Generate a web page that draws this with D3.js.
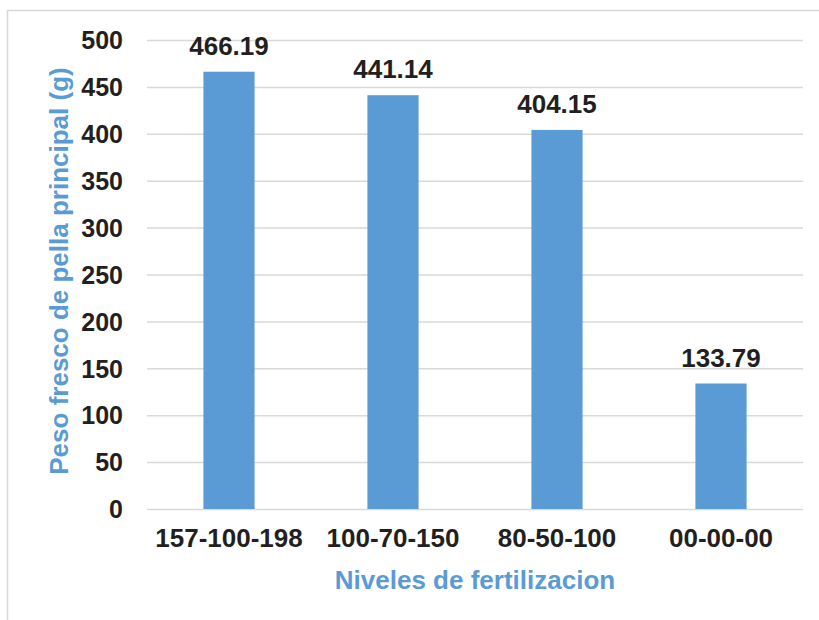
<!DOCTYPE html>
<html>
<head>
<meta charset="utf-8">
<script src="https://cdn.jsdelivr.net/npm/d3@7/dist/d3.min.js"></script>
<style>
  html, body { margin: 0; padding: 0; background: #ffffff; }
  svg { display: block; }
  text { font-family: "Liberation Sans", Arial, Helvetica, sans-serif; font-weight: bold; }
</style>
</head>
<body>
<svg id="chart" width="819" height="620"></svg>
<script>
// Fertilization levels and fresh weight of the main head (g)
const categories = ["157-100-198", "100-70-150", "80-50-100", "00-00-00"];
const values = [466.19, 441.14, 404.15, 133.79];
const yTicks = [0, 50, 100, 150, 200, 250, 300, 350, 400, 450, 500];
const yTitle = "Peso fresco de pella principal (g)";
const xTitle = "Niveles de fertilizacion";

const barColor = "#5b9bd5";
const textColor = "#231f20";
const gridColor = "#d9d9d9";

const svg = d3.select("#chart");

// outer chart-area frame
svg.append("rect")
  .attr("x", 7.5).attr("y", 10.5)
  .attr("width", 830).attr("height", 640)
  .attr("fill", "none")
  .attr("stroke", gridColor)
  .attr("stroke-width", 1.5);

const plot = { left: 147, right: 803, top: 40, bottom: 509 };

const x = d3.scaleBand()
  .domain(categories)
  .range([plot.left, plot.right])
  .paddingInner(0.688)
  .paddingOuter(0.344);

const y = d3.scaleLinear()
  .domain([0, 500])
  .range([plot.bottom, plot.top]);

// horizontal gridlines
const yAxis = d3.axisLeft(y)
  .tickValues(yTicks)
  .tickSize(-(plot.right - plot.left))
  .tickPadding(24)
  .tickFormat(d3.format("d"));

const gy = svg.append("g")
  .attr("transform", `translate(${plot.left},0)`)
  .call(yAxis);
gy.select(".domain").remove();
gy.selectAll(".tick line")
  .attr("stroke", gridColor)
  .attr("stroke-width", 1.5);
gy.selectAll(".tick text")
  .attr("fill", textColor)
  .attr("font-size", 25)
  .attr("dy", "0.35em");

// bars
svg.append("g")
  .selectAll("rect")
  .data(values)
  .join("rect")
  .attr("x", (d, i) => x(categories[i]))
  .attr("y", d => y(d))
  .attr("width", x.bandwidth())
  .attr("height", d => y(0) - y(d))
  .attr("fill", barColor);

// value labels
svg.append("g")
  .selectAll("text")
  .data(values)
  .join("text")
  .attr("x", (d, i) => x(categories[i]) + x.bandwidth() / 2)
  .attr("y", d => y(d) - 17)
  .attr("text-anchor", "middle")
  .attr("font-size", 26)
  .attr("fill", textColor)
  .text(d => d.toFixed(2));

// category axis
const xAxis = d3.axisBottom(x).tickSize(0).tickPadding(0);
const gx = svg.append("g")
  .attr("transform", `translate(0,${plot.bottom})`)
  .call(xAxis);
gx.select(".domain").remove();
gx.selectAll(".tick text")
  .attr("fill", textColor)
  .attr("font-size", 26)
  .attr("dy", null)
  .attr("y", 38);

// axis titles
svg.append("text")
  .attr("x", (plot.left + plot.right) / 2)
  .attr("y", 589)
  .attr("text-anchor", "middle")
  .attr("font-size", 26)
  .attr("fill", barColor)
  .text(xTitle);

svg.append("text")
  .attr("transform", "translate(68,271) rotate(-90)")
  .attr("text-anchor", "middle")
  .attr("font-size", 26)
  .attr("fill", barColor)
  .text(yTitle);
</script>
</body>
</html>
